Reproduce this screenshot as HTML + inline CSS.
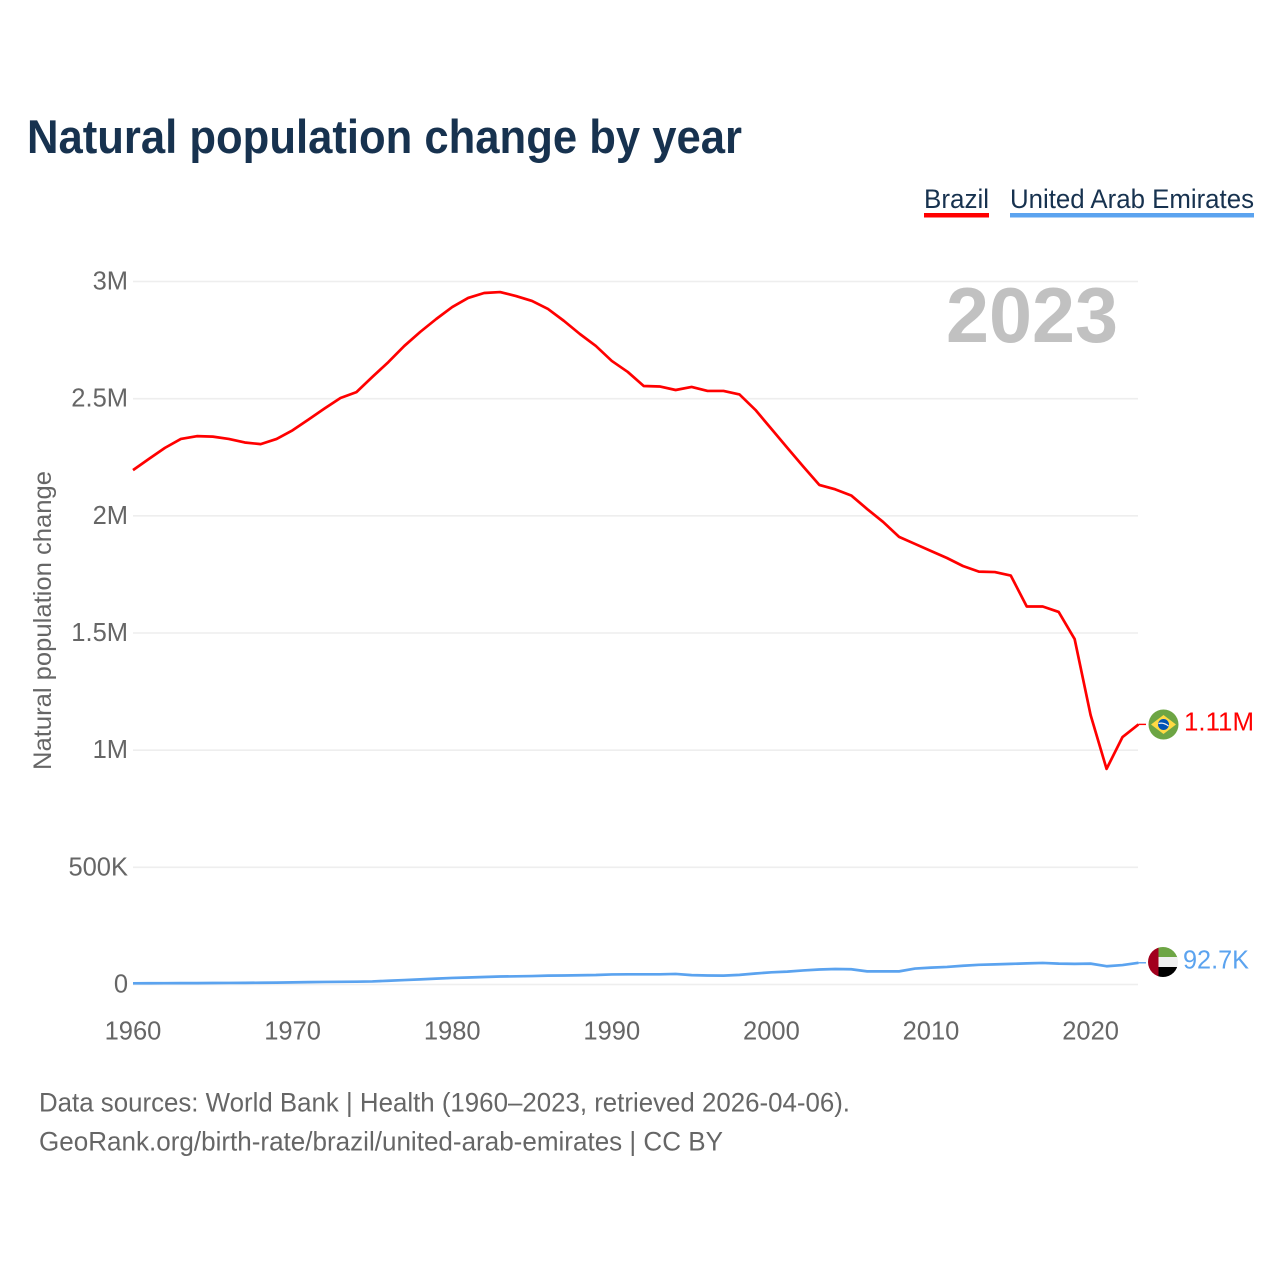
<!DOCTYPE html>
<html lang="en">
<head>
<meta charset="utf-8">
<title>Natural population change by year</title>
<style>
html,body{margin:0;padding:0;background:#fff;width:1280px;height:1280px;overflow:hidden}
svg{display:block;position:absolute;left:0;top:0}
text{font-family:"Liberation Sans",sans-serif}
</style>
</head>
<body>
<svg id="chart" xmlns="http://www.w3.org/2000/svg" width="1280" height="1280" viewBox="0 0 1280 1280">
  <text x="27" y="153" font-size="47" font-weight="700" fill="#17324f" textLength="715" lengthAdjust="spacingAndGlyphs">Natural population change by year</text>
  <g>
    <text x="924" y="208" font-size="27" fill="#17324f" textLength="65" lengthAdjust="spacingAndGlyphs">Brazil</text>
    <rect x="924" y="213" width="65" height="4.5" fill="#ff0000"/>
  </g>
  <g>
    <text x="1010" y="208" font-size="27" fill="#17324f" textLength="244" lengthAdjust="spacingAndGlyphs">United Arab Emirates</text>
    <rect x="1010" y="213" width="244" height="4.5" fill="#5ba3ef"/>
  </g>
  <g id="grid"></g>
  <text x="946" y="342" font-size="78" font-weight="700" fill="#c1c1c1" textLength="172" lengthAdjust="spacingAndGlyphs">2023</text>
  <g id="yticks"></g>
  <g id="xticks"></g>
  <text transform="translate(51,770) rotate(-90)" x="0" y="0" font-size="25" fill="#666666" textLength="299" lengthAdjust="spacingAndGlyphs">Natural population change</text>
  <g id="series"></g>
  <defs>
    <clipPath id="flag-clip-br"><circle cx="1163.5" cy="724.5" r="15"/></clipPath>
    <clipPath id="flag-clip-ae"><circle cx="1163" cy="962" r="15"/></clipPath>
  </defs>
  <g clip-path="url(#flag-clip-br)">
    <rect x="1148" y="709" width="32" height="32" fill="#6da544"/>
    <polygon points="1163.5,715 1176,724.5 1163.5,734 1151,724.5" fill="#ffda44"/>
    <circle cx="1163.5" cy="724.5" r="5.5" fill="#0052b4"/>
    <path d="M1158.5 723.5q5-1.5 10 2.5" fill="none" stroke="#f0f0f0" stroke-width="1.2"/>
  </g>
  <g clip-path="url(#flag-clip-ae)">
    <rect x="1158" y="947" width="21" height="10.5" fill="#6da544"/>
    <rect x="1158" y="957" width="21" height="10.5" fill="#f0f0f0"/>
    <rect x="1158" y="967" width="21" height="10.5" fill="#000000"/>
    <rect x="1148" y="947" width="10.5" height="30" fill="#a2001d"/>
  </g>
  <text x="1184" y="730.5" font-size="25.5" fill="#ff0000" textLength="70" lengthAdjust="spacingAndGlyphs">1.11M</text>
  <text x="1183" y="968.5" font-size="25.5" fill="#5ba3ef" textLength="66" lengthAdjust="spacingAndGlyphs">92.7K</text>
  <text x="39" y="1111.5" font-size="27" fill="#666666" textLength="811" lengthAdjust="spacingAndGlyphs">Data sources: World Bank | Health (1960–2023, retrieved 2026-04-06).</text>
  <text x="39" y="1150.5" font-size="27" fill="#666666" textLength="684" lengthAdjust="spacingAndGlyphs">GeoRank.org/birth-rate/brazil/united-arab-emirates | CC BY</text>
</svg>
<script>
const years = [1960,1961,1962,1963,1964,1965,1966,1967,1968,1969,1970,1971,1972,1973,1974,1975,1976,1977,1978,1979,1980,1981,1982,1983,1984,1985,1986,1987,1988,1989,1990,1991,1992,1993,1994,1995,1996,1997,1998,1999,2000,2001,2002,2003,2004,2005,2006,2007,2008,2009,2010,2011,2012,2013,2014,2015,2016,2017,2018,2019,2020,2021,2022,2023];
const brazil = [2195000,2243000,2290000,2328000,2340000,2338000,2328000,2313000,2306000,2328000,2365000,2411000,2458000,2503000,2528000,2593000,2656000,2725000,2785000,2840000,2891000,2930000,2951000,2955000,2938000,2917000,2883000,2832000,2776000,2725000,2661000,2614000,2554000,2552000,2537000,2550000,2533000,2533000,2518000,2452000,2371000,2290000,2210000,2132000,2113000,2087000,2029000,1974000,1910000,1880000,1850000,1820000,1786000,1762000,1760000,1745000,1613000,1613000,1590000,1474000,1150000,920000,1056000,1110000];
const uae = [5000,5200,5500,5700,6000,6300,6700,7000,7500,8000,9000,10000,11000,11500,12000,13000,16000,19000,22000,25000,28000,30000,32000,34000,35000,36000,38000,38500,39500,40500,43000,43500,43500,43500,45000,40000,38500,38000,41000,47000,52000,55000,60000,64000,66000,65000,56000,56000,56000,68000,72000,75000,80000,84000,86000,88000,90000,92000,89000,88000,89000,78000,83000,92700];
const yTickValues = [0,500000,1000000,1500000,2000000,2500000,3000000];
const yTickLabels = ['0','500K','1M','1.5M','2M','2.5M','3M'];
const xTickValues = [1960,1970,1980,1990,2000,2010,2020];
const xTickLabels = ['1960','1970','1980','1990','2000','2010','2020'];

const NS = 'http://www.w3.org/2000/svg';
const xScale = function (year) { return 133 + (year - 1960) * 15.96; };
const yScale = function (value) { return 984.5 - value * (703 / 3000000); };

const grid = document.getElementById('grid');
const yticks = document.getElementById('yticks');
const xticks = document.getElementById('xticks');
const series = document.getElementById('series');

yTickValues.forEach(function (value, i) {
  const line = document.createElementNS(NS, 'line');
  
  
  line.setAttribute('x1', 133);
  line.setAttribute('x2', 1138);
  line.setAttribute('y1', yScale(value));
  line.setAttribute('y2', yScale(value));
  line.setAttribute('stroke', '#eeeeee');
  line.setAttribute('stroke-width', 1.6);
  grid.appendChild(line);

  const label = document.createElementNS(NS, 'text');
  
  
  label.setAttribute('x', 128);
  label.setAttribute('y', yScale(value) + 8);
  label.setAttribute('text-anchor', 'end');
  label.setAttribute('font-size', 25.5);
  label.setAttribute('fill', '#666666');
  label.textContent = yTickLabels[i];
  yticks.appendChild(label);
});

xTickValues.forEach(function (year, i) {
  const label = document.createElementNS(NS, 'text');
  
  
  label.setAttribute('x', xScale(year));
  label.setAttribute('y', 1039.5);
  label.setAttribute('text-anchor', 'middle');
  label.setAttribute('font-size', 25.5);
  label.setAttribute('fill', '#666666');
  label.textContent = xTickLabels[i];
  xticks.appendChild(label);
});

function drawLine(values, color, name, iconLeft) {
  const pts = values.map(function (v, i) { return xScale(years[i]).toFixed(2) + ',' + yScale(v).toFixed(2); });
  const line = document.createElementNS(NS, 'polyline');
  
  
  line.setAttribute('points', pts.join(' '));
  line.setAttribute('fill', 'none');
  line.setAttribute('stroke', color);
  line.setAttribute('stroke-width', 2.7);
  line.setAttribute('stroke-linejoin', 'round');
  series.appendChild(line);

  const lastValue = values[values.length - 1];
  const connector = document.createElementNS(NS, 'line');
  
  
  connector.setAttribute('x1', xScale(years[years.length - 1]));
  connector.setAttribute('x2', iconLeft);
  connector.setAttribute('y1', yScale(lastValue));
  connector.setAttribute('y2', yScale(lastValue));
  connector.setAttribute('stroke', color);
  connector.setAttribute('stroke-width', 1.4);
  series.appendChild(connector);
}

drawLine(brazil, '#ff0000', 'line-brazil', 1146);
drawLine(uae, '#5ba3ef', 'line-uae', 1146);
</script>
</body>
</html>
